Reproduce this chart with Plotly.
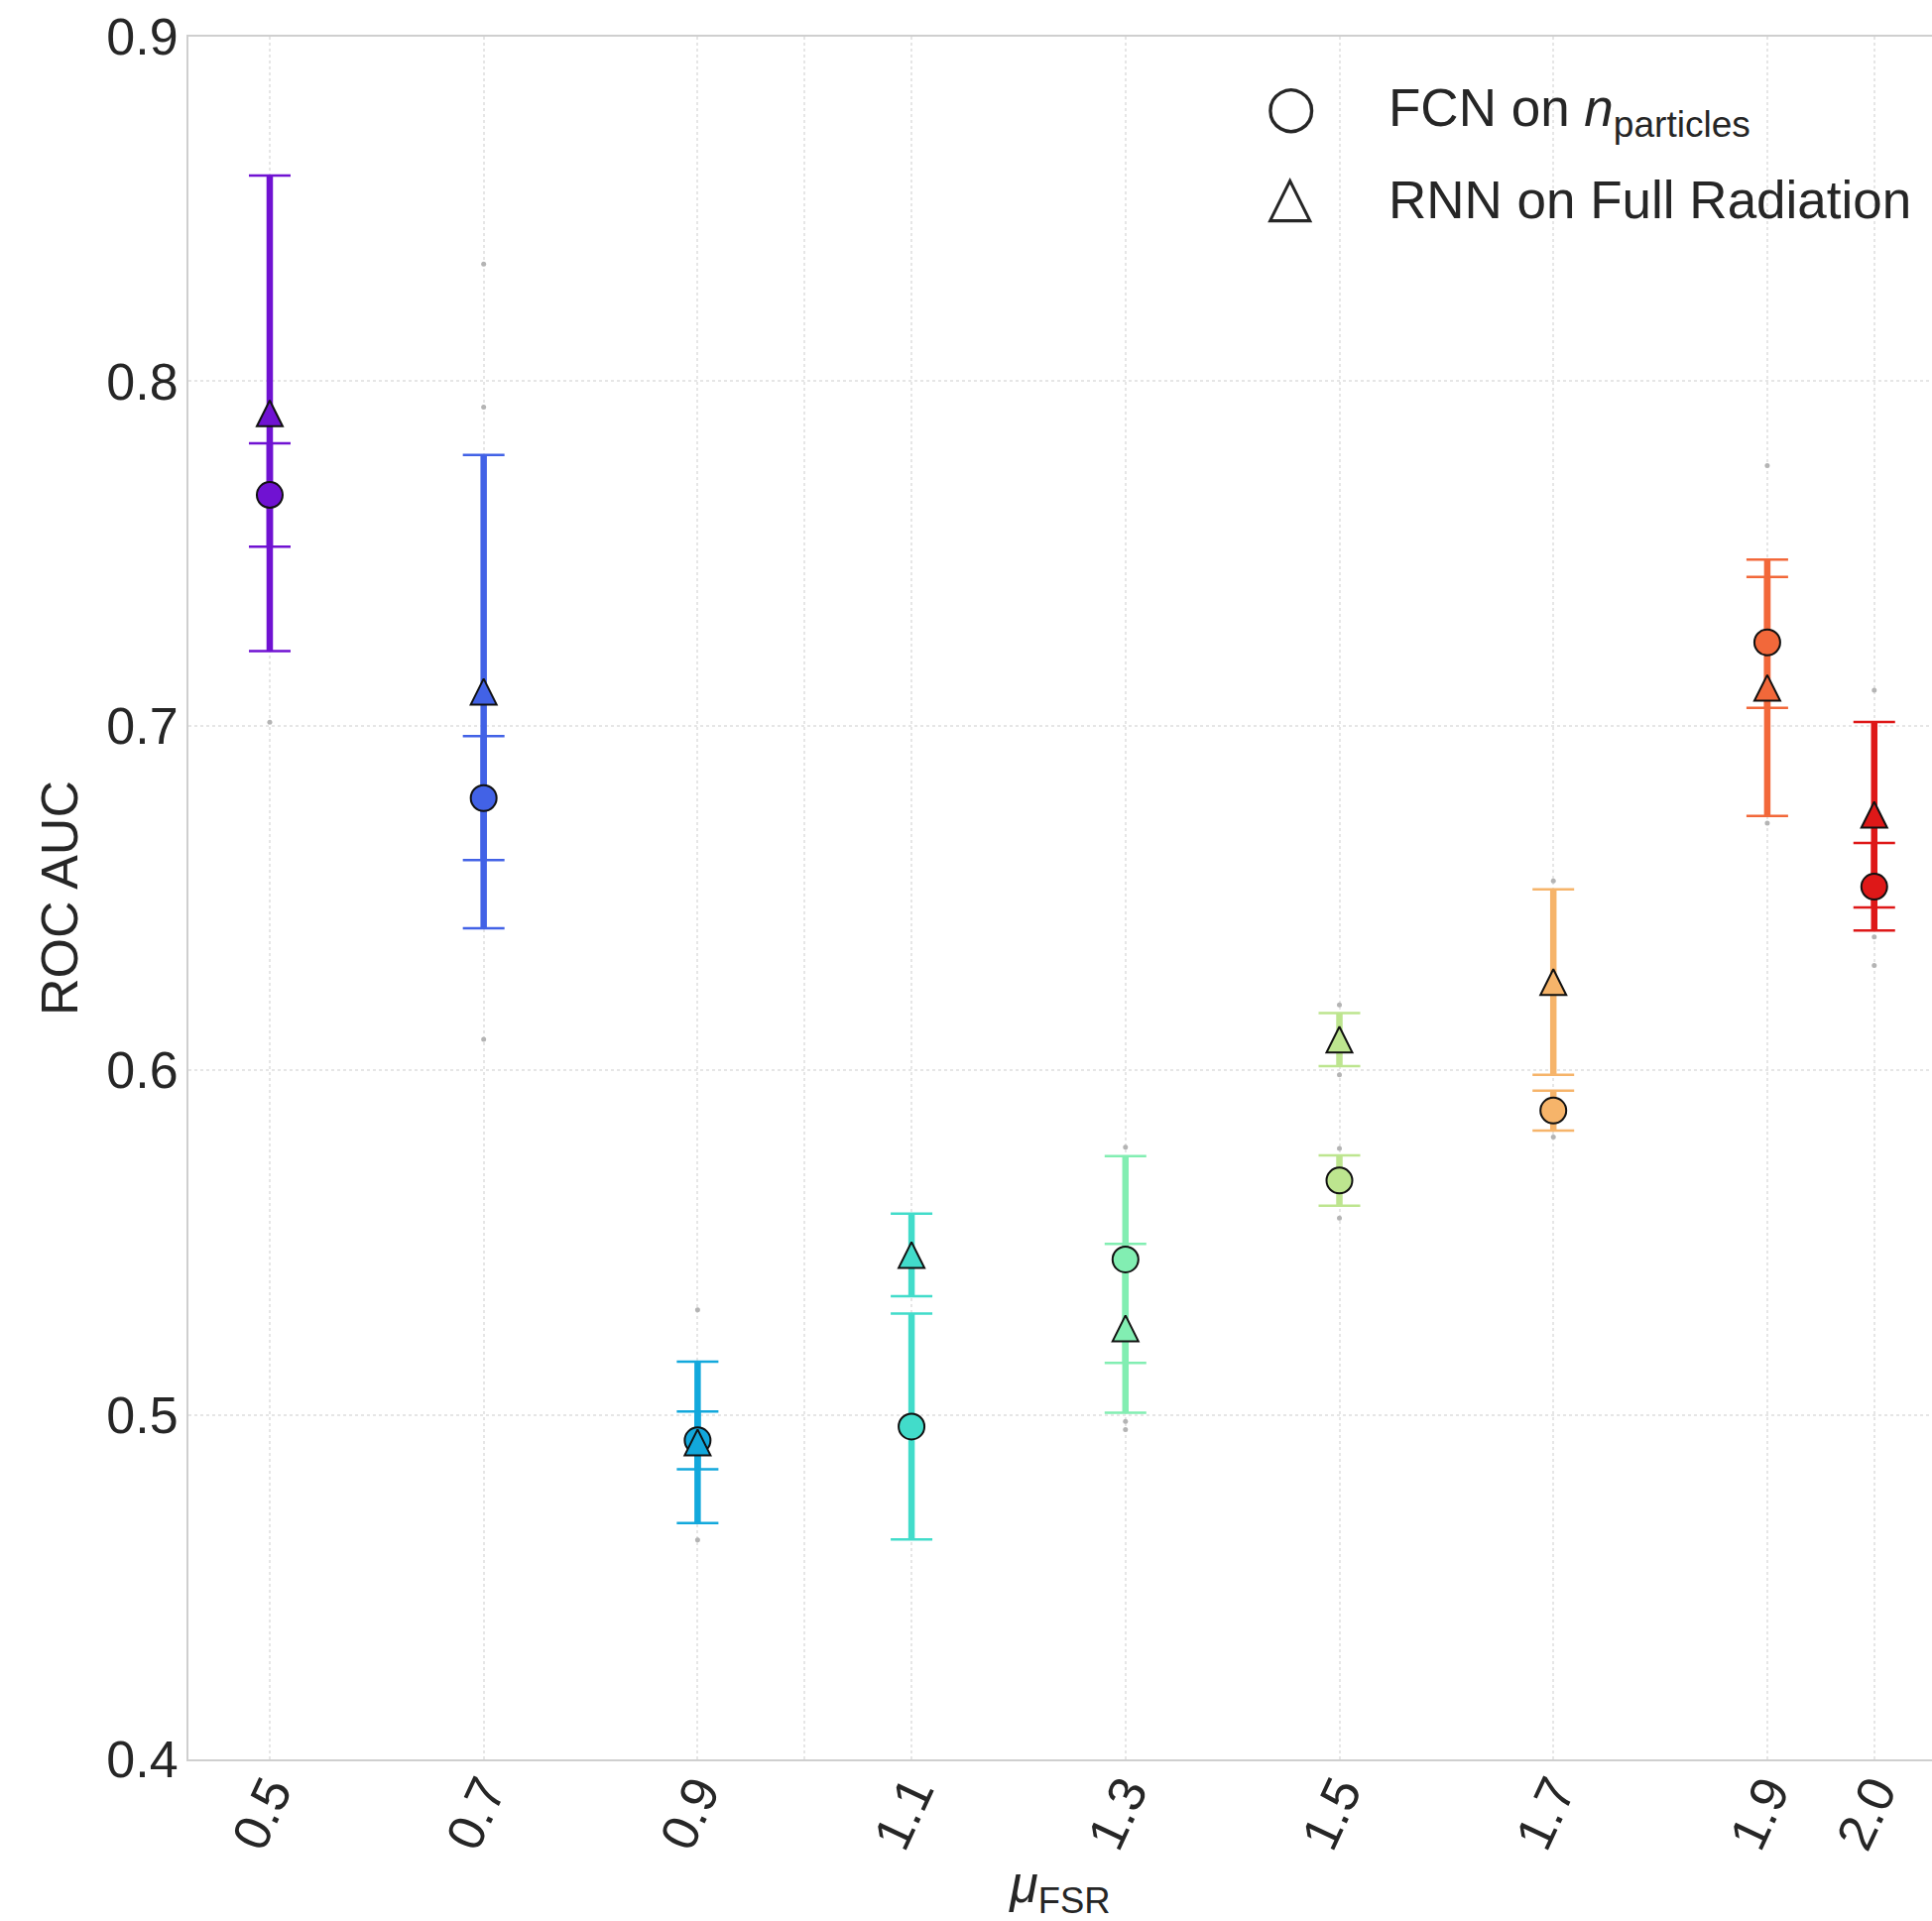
import plotly.graph_objects as go

# ---------------- data ----------------
mu = [0.5, 0.7, 0.9, 1.1, 1.3, 1.5, 1.7, 1.9, 2.0]
tick_text = ["0.5", "0.7", "0.9", "1.1", "1.3", "1.5", "1.7", "1.9", "2.0"]
extra_grid = [1.0]

fcn_mean = [0.767, 0.679, 0.4926, 0.4966, 0.5451, 0.5680, 0.5883, 0.7242, 0.6533]
fcn_err = [0.015, 0.018, 0.0084, 0.0328, 0.0300, 0.0073, 0.0058, 0.0190, 0.0127]

rnn_mean = [0.7907, 0.7099, 0.4920, 0.5464, 0.5251, 0.6089, 0.6256, 0.7110, 0.6742]
rnn_err = [0.0690, 0.0687, 0.0234, 0.0120, 0.0245, 0.0077, 0.0269, 0.0372, 0.0269]

point_colors = ["#7012d2", "#4262e6", "#12a8dc", "#42dcca", "#82eeb2",
                "#bde58f", "#f6b46a", "#f2683a", "#de1818"]

run_x = [0.5, 0.7, 0.7, 0.7, 0.9, 0.9, 1.3, 1.3, 1.3, 1.5, 1.5, 1.5, 1.5,
         1.7, 1.7, 1.9, 1.9, 2.0, 2.0, 2.0]
run_y = [0.701, 0.834, 0.7925, 0.609, 0.5305, 0.4637, 0.5777, 0.4981, 0.4957,
         0.619, 0.5987, 0.5773, 0.5571, 0.655, 0.5806, 0.7755, 0.6717,
         0.7103, 0.6387, 0.6304]

legend_labels = ["FCN on <i>n</i><sub>particles</sub>", "RNN on Full Radiation"]
legend_symbols = ["○", "△"]

FONT = "Liberation Sans, Arial, sans-serif"
TXT = "#262626"

fig = go.Figure()

# individual-run points (small grey dots)
fig.add_trace(go.Scatter(x=run_x, y=run_y, mode="markers",
                         marker=dict(size=5, color="#b4b4b4"),
                         showlegend=False, hoverinfo="skip"))

# error bars: thick stems + thin caps, one per point so colours match
for means, errs in [(fcn_mean, fcn_err), (rnn_mean, rnn_err)]:
    for xi, m, e, c in zip(mu, means, errs, point_colors):
        fig.add_trace(go.Scatter(
            x=[xi], y=[m], mode="markers",
            marker=dict(size=1, color="rgba(0,0,0,0)"),
            error_y=dict(type="data", array=[e], color=c, thickness=6.5, width=0),
            showlegend=False, hoverinfo="skip"))
        fig.add_trace(go.Scatter(
            x=[xi], y=[m], mode="markers",
            marker=dict(size=1, color="rgba(0,0,0,0)"),
            error_y=dict(type="data", array=[e], color=c, thickness=2.5, width=21),
            showlegend=False, hoverinfo="skip"))

# markers
fig.add_trace(go.Scatter(
    x=mu, y=fcn_mean, mode="markers", name="FCN",
    marker=dict(symbol="circle", size=26, color=point_colors,
                line=dict(color="#111111", width=2)),
    showlegend=False))
fig.add_trace(go.Scatter(
    x=mu, y=rnn_mean, mode="markers", name="RNN",
    marker=dict(symbol="arrow-down", angle=180, standoff=13, size=26,
                color=point_colors, line=dict(color="#111111", width=2)),
    showlegend=False))

# legend drawn as text annotations (large symbols like the reference)
L, R, T, B = 190, 0, 37, 163
W, H = 1948, 1937
pw, ph = W - L - R, H - T - B


def px2paper(px, py):
    return (px - L) / pw, (H - B - py) / ph


for i, (sym, lab) in enumerate(zip(legend_symbols, legend_labels)):
    cy = 112 + i * 89
    sx, sy = px2paper(1301, cy - 5)
    tx, ty = px2paper(1398, cy)
    fig.add_annotation(x=sx, y=sy, xref="paper", yref="paper", text=sym,
                       showarrow=False, xanchor="center", yanchor="middle",
                       font=dict(family="DejaVu Sans", size=59, color=TXT))
    fig.add_annotation(x=tx, y=ty, xref="paper", yref="paper", text=lab,
                       showarrow=False, xanchor="left", yanchor="middle",
                       font=dict(family=FONT, size=53, color=TXT))

fig.update_layout(
    width=W, height=H,
    margin=dict(l=L, r=R, t=T, b=B, pad=0),
    paper_bgcolor="white", plot_bgcolor="white",
    font=dict(family=FONT, size=52, color=TXT),
    showlegend=False,
)
fig.update_xaxes(
    range=[0.424, 2.054], tickmode="array", tickvals=mu, ticktext=tick_text,
    tickangle=-65, tickfont=dict(size=52, color=TXT), ticklabelstandoff=-20,
    showgrid=True, gridcolor="#e6e6e6", griddash="dot", gridwidth=1.5,
    minor=dict(tickmode="array", tickvals=extra_grid, showgrid=True,
               gridcolor="#e6e6e6", griddash="dot", gridwidth=1.5, ticks=""),
    showline=True, linecolor="#cfcfcf", linewidth=2, mirror=True,
    zeroline=False, ticks="",
    title=dict(text="<i>μ</i><sub>FSR</sub>", font=dict(size=52, color=TXT), standoff=24),
    automargin=False,
)
fig.update_yaxes(
    range=[0.4, 0.9], tickmode="array",
    tickvals=[0.4, 0.5, 0.6, 0.7, 0.8, 0.9],
    ticktext=["0.4", "0.5", "0.6", "0.7", "0.8", "0.9"],
    tickfont=dict(size=52, color=TXT),
    showgrid=True, gridcolor="#e6e6e6", griddash="dot", gridwidth=1.5,
    showline=True, linecolor="#cfcfcf", linewidth=2, mirror=False,
    zeroline=False, ticks="", ticklabelstandoff=-2,
    title=dict(text="ROC AUC", font=dict(size=52, color=TXT), standoff=12),
    automargin=False,
)

fig.write_html("out.html", config={"displayModeBar": False},
               post_script="document.body.style.margin='0';")
